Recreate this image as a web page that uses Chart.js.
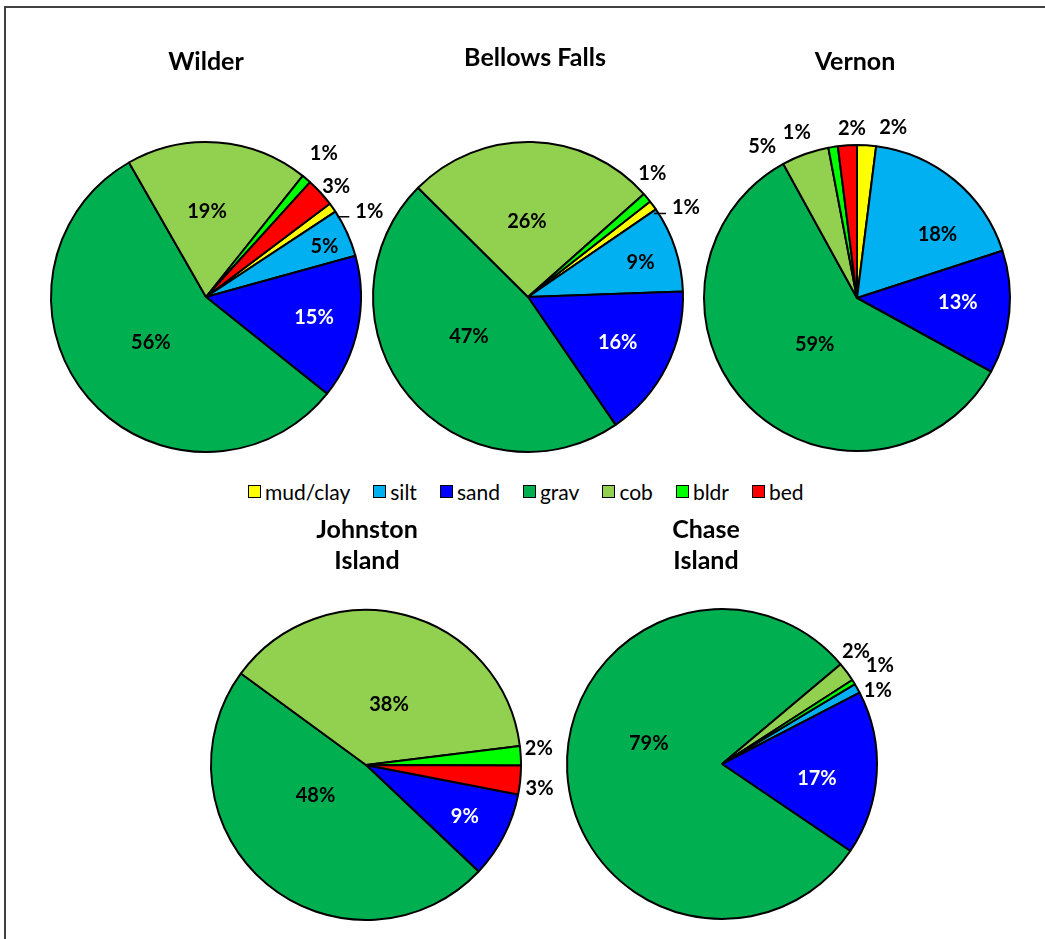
<!DOCTYPE html>
<html>
<head>
<meta charset="utf-8">
<script src="https://cdn.jsdelivr.net/npm/chart.js@4.4.1/dist/chart.umd.min.js"></script>
<style>
  html, body { margin: 0; padding: 0; background: #fff; }
  body { width: 1045px; height: 939px; overflow: hidden; position: relative; font-family: Lato, "Open Sans", sans-serif; }
  #frame { position: absolute; left: 4px; top: 6px; width: 1200px; height: 1200px; border: 2px solid #404040; box-sizing: border-box; }
  canvas.pie { position: absolute; }
  #legend { position: absolute; left: 248px; top: 479px; display: flex; align-items: center; gap: 23px; font: 21px Lato, sans-serif; color: #000; }
  #legend .item { display: flex; align-items: center; }
  #legend .sw { width: 11px; height: 11px; border: 1.5px solid #000; margin-right: 4px; }
</style>
</head>
<body>
<div id="frame"></div>
<div id="legend"></div>
<script>
// ---- data ----
const categories = ['mud/clay', 'silt', 'sand', 'grav', 'cob', 'bldr', 'bed'];
const colors = ['#FFFF00', '#00B0F0', '#0000FF', '#00B050', '#92D050', '#00FF00', '#FF0000'];
const siteTitles = [['Wilder'], ['Bellows Falls'], ['Vernon'], ['Johnston', 'Island'], ['Chase', 'Island']];
const wilder = [1, 5, 15, 56, 19, 1, 3];
const bellowsFalls = [1, 9, 16, 47, 26, 1, 0];
const vernon = [2, 18, 13, 59, 5, 1, 2];
const johnstonIsland = [0, 0, 9, 48, 38, 2, 3];
const chaseIsland = [0, 1, 17, 79, 2, 0.5, 0];
const labelColors = ['#000', '#000', '#fff', '#000', '#000', '#000', '#000'];

// ---- layout (positions / styles) ----
const SIZE = 520;
const charts = [
  { data: wilder, cx: 206, cy: 297, radius: 155, rotation: 53, title: siteTitles[0], tdx: 0, tdy: -235,
    pos: [[1.19, 7.5], [0.83, 1.4], [0.71, -0.6], [0.46, 1.3], [0.55, -3.7], [1.2, -1.1], [1.10, 2.2]], leader: [0] },
  { data: bellowsFalls, cx: 528, cy: 297, radius: 155, rotation: 52, title: siteTitles[1], tdx: 7, tdy: -239,
    pos: [[1.17, 6.8], [0.76, 1], [0.65, 0.3], [0.46, 5.7], [0.49, -2.4], [1.13, -5], [1, 0]], leader: [0] },
  { data: vernon, cx: 857, cy: 298, radius: 153, rotation: 0, title: siteTitles[2], tdx: -2, tdy: -236,
    pos: [[1.14, 8.4], [0.67, 12.1], [0.66, -2.6], [0.41, -2.6], [1.17, -12.2], [1.15, -11], [1.11, 1.9]], leader: [] },
  { data: johnstonIsland, cx: 366, cy: 765, radius: 155, rotation: 101, title: siteTitles[3], tdx: 1, tdy: -235,
    pos: [[1, 0], [1, 0], [0.72, 0.5], [0.38, 19.2], [0.42, 6.1], [1.12, -2.2], [1.13, 2]], leader: [] },
  { data: chaseIsland, cx: 722, cy: 764, radius: 155, rotation: 59, title: siteTitles[4], tdx: -16, tdy: -234,
    pos: [[1, 0], [1.11, 4.1], [0.62, 5.6], [0.49, 18.3], [1.13, -3.7], [1.2, 0], [1, 0]], leader: [] }
];

const sliceLabels = {
  id: 'sliceLabels',
  afterDatasetsDraw(chart, args, opts) {
    const ctx = chart.ctx;
    const vals = chart.data.datasets[0].data;
    const total = vals.reduce((a, b) => a + b, 0);
    const meta = chart.getDatasetMeta(0);
    ctx.save();
    ctx.font = 'bold 20px Lato, sans-serif';
    ctx.textAlign = 'center';
    ctx.textBaseline = 'middle';
    meta.data.forEach((arc, i) => {
      const v = vals[i];
      if (!v) return;
      const p = arc.getProps(['x', 'y', 'startAngle', 'endAngle', 'outerRadius'], true);
      const ang = (p.startAngle + p.endAngle) / 2 + opts.pos[i][1] * Math.PI / 180;
      const r = p.outerRadius * opts.pos[i][0];
      const lx = p.x + Math.cos(ang) * r, ly = p.y + Math.sin(ang) * r;
      ctx.fillStyle = labelColors[i];
      ctx.fillText(Math.round(v / total * 100) + '%', lx, ly);
      if (opts.leader.includes(i)) {
        ctx.strokeStyle = '#000';
        ctx.lineWidth = 1.5;
        ctx.beginPath();
        ctx.moveTo(lx - 32, ly + 5.5);
        ctx.lineTo(lx - 20, ly + 5.5);
        ctx.stroke();
      }
    });
    // title
    const a = chart.chartArea;
    const cx = (a.left + a.right) / 2, cy = (a.top + a.bottom) / 2;
    ctx.fillStyle = '#000';
    ctx.font = 'bold 25px Lato, sans-serif';
    opts.title.forEach((line, k) => ctx.fillText(line, cx + opts.tdx, cy + opts.tdy + k * 31));
    ctx.restore();
  }
};

charts.forEach((c) => {
  const cv = document.createElement('canvas');
  cv.className = 'pie';
  cv.width = SIZE; cv.height = SIZE;
  cv.style.left = (c.cx - SIZE / 2) + 'px';
  cv.style.top = (c.cy - SIZE / 2) + 'px';
  cv.style.width = SIZE + 'px'; cv.style.height = SIZE + 'px';
  document.body.appendChild(cv);
  new Chart(cv, {
    type: 'pie',
    data: {
      labels: categories,
      datasets: [{ data: c.data, backgroundColor: colors, borderColor: '#000', borderWidth: 2, radius: c.radius }]
    },
    options: {
      responsive: false,
      animation: false,
      rotation: c.rotation,
      events: [],
      layout: { padding: 0 },
      plugins: {
        legend: { display: false },
        tooltip: { enabled: false },
        title: { display: false },
        sliceLabels: { pos: c.pos, leader: c.leader, title: c.title, tdx: c.tdx, tdy: c.tdy }
      }
    },
    plugins: [sliceLabels]
  });
});

// legend built from categories / colors
const lg = document.getElementById('legend');
categories.forEach((name, i) => {
  const it = document.createElement('div');
  it.className = 'item';
  const sw = document.createElement('span');
  sw.className = 'sw';
  sw.style.background = colors[i];
  const tx = document.createElement('span');
  tx.textContent = name;
  it.appendChild(sw); it.appendChild(tx);
  lg.appendChild(it);
});
</script>
</body>
</html>
